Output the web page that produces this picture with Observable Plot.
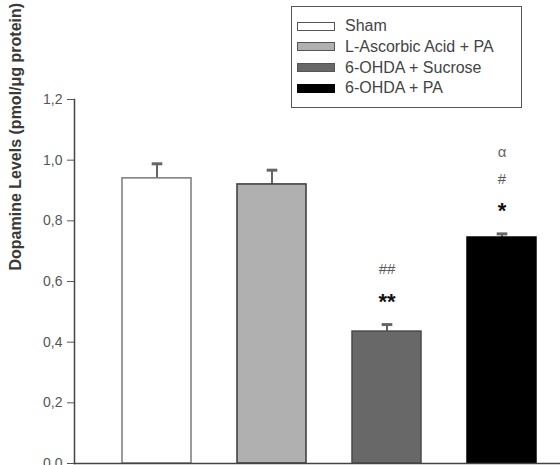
<!DOCTYPE html>
<html><head><meta charset="utf-8">
<script src="https://cdn.jsdelivr.net/npm/d3@7"></script>
<script src="https://cdn.jsdelivr.net/npm/@observablehq/plot@0.6"></script>
<style>
body{margin:0;background:#fff;}
#wrap{position:relative;width:560px;height:465px;overflow:hidden;font-family:"Liberation Sans",Arial,sans-serif;}
#legend{position:absolute;left:291px;top:6px;width:231px;height:102px;border:1.5px solid #555;box-sizing:border-box;background:#fff;}
.row{position:absolute;left:5px;display:flex;align-items:center;height:20px;}
.sw{width:38px;height:9px;border:1.5px solid #555;box-sizing:border-box;margin-right:10px;}
.lab{font-size:16px;color:#444;white-space:nowrap;}
</style></head>
<body><div id="wrap"><div id="chart"></div><div id="legend"></div></div>
<script>
const categories = ["Sham", "L-Ascorbic Acid + PA", "6-OHDA + Sucrose", "6-OHDA + PA"];
const means = [0.94, 0.92, 0.435, 0.745];
const sems = [0.048, 0.047, 0.023, 0.012];
const fills = ["#ffffff", "#b0b0b0", "#686868", "#000000"];
const strokes = ["#7a7a7a", "#3a3a3a", "#4a4a4a", "#000000"];
const yTicks = [0, 0.2, 0.4, 0.6, 0.8, 1.0, 1.2];
const annotGroup = ["6-OHDA + Sucrose", "6-OHDA + Sucrose", "6-OHDA + PA", "6-OHDA + PA", "6-OHDA + PA"];
const annotLabel = ["**", "##", "*", "#", "α"];
const annotLevel = [0, 1, 0, 1, 2];
const yTitle = "Dopamine Levels (pmol/μg protein)";

const bars = categories.map((c, i) => ({c, m: means[i], se: sems[i], fill: fills[i], stroke: strokes[i]}));
const annots = annotLabel.map((t, i) => {
  const b = bars[categories.indexOf(annotGroup[i])];
  return {c: annotGroup[i], t, y: b.m + b.se, lvl: annotLevel[i]};
});
const capSymbol = {draw(ctx, size) { const w = Math.sqrt(size); ctx.moveTo(-w, 0); ctx.lineTo(w, 0); }};

const chart = Plot.plot({
  width: 560, height: 465,
  marginLeft: 74, marginRight: 0, marginTop: 99, marginBottom: 2,
  style: {fontFamily: "Liberation Sans, Arial, sans-serif", background: "transparent", overflow: "visible"},
  x: {domain: categories, range: [74, 583.5], padding: 0.4, axis: null},
  y: {domain: [0, 1.2], axis: null},
  marks: [
    Plot.ruleX(bars, {x: "c", y1: d => d.m, y2: d => d.m + d.se, stroke: "#666", strokeWidth: 2}),
    Plot.dot(bars, {x: "c", y: d => d.m + d.se, symbol: capSymbol, r: 3, stroke: "#666", strokeWidth: 3}),
    Plot.barY(bars, {x: "c", y: "m", fill: d => d.fill, stroke: d => d.stroke, strokeWidth: 1.5}),
    Plot.text(annots.filter(d => d.lvl === 0), {x: "c", y: "y", text: "t", dy: -23, fontSize: 22, fontWeight: "bold", fill: "#111"}),
    Plot.text(annots.filter(d => d.lvl === 1), {x: "c", y: "y", text: "t", dy: -55, fontSize: 15, fill: "#5a5a5a"}),
    Plot.text(annots.filter(d => d.lvl === 2), {x: "c", y: "y", text: "t", dy: -82, fontSize: 15, fill: "#666"}),
    Plot.axisY({ticks: yTicks, tickSize: 7, tickFormat: d => d3.format(".1f")(d).replace(".", ","), fontSize: 14, fill: "#555", stroke: "#555", tickPadding: 5, label: null}),
    Plot.frame({anchor: "left", stroke: "#444", strokeWidth: 1.5}),
    Plot.frame({anchor: "bottom", stroke: "#444", strokeWidth: 1.5}),
    Plot.text([yTitle], {frameAnchor: "left", text: d => d, rotate: -90, dx: -59, dy: -11, fontSize: 16, fontWeight: "bold", fill: "#3a3a3a"})
  ]
});
document.getElementById("chart").appendChild(chart);

const legend = document.getElementById("legend");
categories.forEach((c, i) => {
  const row = document.createElement("div");
  row.className = "row";
  row.style.top = (9 + i * 20.8) + "px";
  const sw = document.createElement("div");
  sw.className = "sw";
  sw.style.background = fills[i];
  sw.style.borderColor = i === 3 ? "#000" : "#555";
  const lab = document.createElement("span");
  lab.className = "lab";
  lab.textContent = c;
  row.appendChild(sw); row.appendChild(lab);
  legend.appendChild(row);
});
</script></body></html>
